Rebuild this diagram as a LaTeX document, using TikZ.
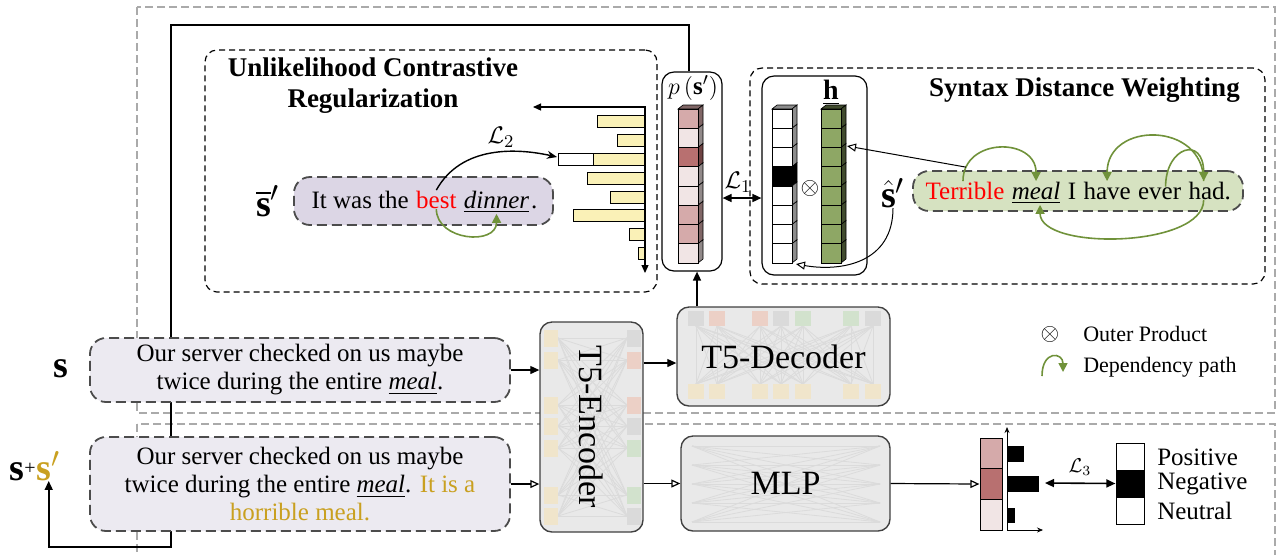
\documentclass[tikz,border=0pt]{standalone}
\usepackage{amsmath,amssymb}
\usepackage{fontspec}
\setmainfont{Liberation Serif}
\usetikzlibrary{arrows.meta,positioning,calc}

\definecolor{sentpurple}{RGB}{220,214,229}
\definecolor{inputgray}{RGB}{236,234,241}
\definecolor{sentgreen}{RGB}{214,226,193}
\definecolor{hgreen}{RGB}{142,167,101}
\definecolor{arcgreen}{RGB}{112,146,58}
\definecolor{baryellow}{RGB}{250,241,183}
\definecolor{probdark}{RGB}{184,112,112}
\definecolor{probmid}{RGB}{213,170,170}
\definecolor{problight}{RGB}{241,229,229}
\definecolor{augold}{RGB}{201,160,32}
\definecolor{framegray}{RGB}{170,170,170}
\definecolor{modelgray}{RGB}{233,233,233}
\definecolor{fadeyellow}{RGB}{240,229,203}
\definecolor{fadered}{RGB}{236,208,198}
\definecolor{fadegray}{RGB}{218,218,218}
\definecolor{fadegreen}{RGB}{210,226,205}

\begin{document}
\begin{tikzpicture}
  [
    x=0.5pt, y=-0.5pt,
    semithick,
    >={Triangle[length=4.5pt,width=4pt]},
    font=\fontsize{12.5}{14}\selectfont,
    outer frame/.style={draw=framegray, dash pattern=on 4pt off 2pt, line width=0.6pt},
    module frame/.style={draw, dash pattern=on 3pt off 2pt, line width=0.6pt, rounded corners=6pt, inner sep=0pt},
    sentence/.style={draw=black!70, dash pattern=on 5pt off 2.5pt, line width=0.9pt, rounded corners=8pt, inner sep=0pt},
    input box/.style={sentence, fill=inputgray, minimum width=210pt, align=center},
    model box/.style={draw=black!75, fill=modelgray, line width=0.7pt, rounded corners=6pt, inner sep=0pt},
    model text/.style={font=\fontsize{17}{20}\selectfont},
    holder/.style={draw, line width=0.6pt, rounded corners=6pt, inner sep=0pt},
    word/.style={inner sep=0pt},
    seq label/.style={font=\fontsize{19}{22}\selectfont, inner sep=0pt},
    module title/.style={font=\fontsize{13.5}{15.5}\selectfont\bfseries, align=center},
    dep/.style={arcgreen, line width=0.8pt, -{Triangle[length=4.5pt,width=4.5pt]}},
    hollow arrow/.style={-{Triangle[open,length=4.5pt,width=4pt]}},
    chart bar/.style={draw, line width=0.5pt, fill=baryellow},
    cell/.style={draw, line width=0.5pt},
    net/.style={black!14, line width=0.4pt},
    key text/.style={font=\fontsize{11}{13}\selectfont, anchor=west}
  ]
  \useasboundingbox (0,0) rectangle (1278,554);

  % training / classification regions
  \draw[outer frame] (137,7) rectangle (1275,413);
  \draw[outer frame] (137,424) rectangle (1275,570);

  % labels of the two inputs
  \node (s label) [seq label] at (61,369) {$\mathbf{s}$};
  \node (ss label) [seq label, anchor=base west] at (9,480)
        {$\mathbf{s}$\raisebox{3pt}{\fontsize{10}{10}\selectfont+}};
  \node (s prime) [seq label, base right=0pt of ss label] {$\color{augold}\mathbf{s}'$};

  % probability column holder
  \node (p box) [holder, minimum width=30pt, minimum height=99.5pt] at (692,171.5) {};
  \node (p label) at (693,88) {$p\left(\mathbf{s}'\right)$};

  % loop back to the augmented input
  \draw[->, line width=0.8pt] (p box.north -| 689,0) |- (171,25) -- (171,547) -| (s prime.south);

  % inputs
  \node (s box) [input box, minimum height=32pt] at (300,370)
        {Our server checked on us maybe\\twice during the entire \underline{\textit{meal}}.};
  \node (ss box) [input box, minimum height=47pt] at (300,484)
        {Our server checked on us maybe\\twice during the entire \underline{\textit{meal}}. \textcolor{augold}{It is a}\\\textcolor{augold}{horrible meal.}};

  % models
  \node (enc) [model box, minimum width=51.5pt, minimum height=105pt] at (591.5,427) {};
  \foreach \a in {338,360,405,426,448,495,516}
    \foreach \b in {338,360,405,426,448,495,516}
      \draw[net] (558,\a) -- (627,\b);
  \foreach \y/\c in {330/fadeyellow,352/fadeyellow,397/fadeyellow,418/fadeyellow,440/fadeyellow,487/fadeyellow,508/fadeyellow}
    \fill[\c] (544,\y) rectangle ++(14,17);
  \foreach \y/\c in {330/fadegray,352/fadered,397/fadered,418/fadegray,440/fadegreen,487/fadegreen,508/fadegray}
    \fill[\c] (627,\y) rectangle ++(14,17);
  \node (enc text) [model text, rotate=-90] at (enc) {T5-Encoder};

  \node (dec) [model box, minimum width=106.5pt, minimum height=49.5pt] at (783.5,356.5) {};
  \foreach \a in {696,717,760,781,803,851,873}
    \foreach \b in {696,717,760,781,803,851,873}
      \draw[net] (\a,326) -- (\b,384);
  \foreach \x/\c in {688/fadegray,709/fadered,752/fadered,773/fadegray,795/fadegreen,843/fadegreen,865/fadegray}
    \fill[\c] (\x,311) rectangle ++(16,15);
  \foreach \x in {688,709,752,773,795,843,865}
    \fill[fadeyellow] (\x,384) rectangle ++(16,15);
  \node (dec text) [model text] at (dec) {T5-Decoder};

  \node (mlp) [model box, minimum width=104.5pt, minimum height=47.5pt] at (785.5,483.5) {};
  \foreach \a in {446,465,484,503,522}
    \foreach \b in {446,465,484,503,522}
      \draw[net] (692,\a) -- (880,\b);
  \node (mlp text) [model text] at (mlp) {MLP};

  \draw[->] (s box.east) -- (enc.west |- s box.east);
  \draw[hollow arrow] (ss box.east) -- (enc.west |- ss box.east);
  \draw[->] (enc.east |- 0,363) -- (dec.west |- 0,363);
  \draw[hollow arrow] (enc.east |- mlp) -- (mlp.west);
  \draw[->, line width=0.8pt] (dec.north -| 697,0) -- (p box.south -| 697,0);

  % unlikelihood contrastive regularization
  \node (ucr) [module frame, minimum width=226pt, minimum height=121pt] at (431,171) {};
  \node (ucr title) [module title] at (373,86) {Unlikelihood Contrastive\\Regularization};
  \foreach \y/\x in {115/597,134/617,153/593,172/587,191/610,209/573,228/629,247/638}
    \draw[chart bar] (\x,\y) rectangle (645,\y+12);
  \draw[cell, fill=white] (558,153) rectangle (593,165);
  \coordinate (l2 end) at (557,157);
  \coordinate (chart origin) at (645,107);
  \draw[{Triangle[length=4pt,width=3.5pt]}-{Triangle[length=4pt,width=3.5pt]}, line width=0.6pt]
        (533,107) -- (chart origin) -- (645,273);

  \node (bar s box) [sentence, fill=sentpurple, minimum width=129.5pt, minimum height=24pt] at (423.5,201) {};
  \node (bar s label) [seq label] at (268,201) {$\overline{\mathbf{s}}'$};
  \node (w it) [word, anchor=base west] at (311,208) {It was the};
  \node (w best) [word, base right=3.1pt of w it, text=red] {best};
  \node (w dinner) [word, base right=3.1pt of w best] {\underline{\textit{dinner}}};
  \node (w dot) [word, base right=0.3pt of w dinner] {.};
  \draw[dep] (w best.south) .. controls +(0,32) and +(0,32) .. (w dinner.south);
  \draw[-{Stealth[length=5pt,width=4pt]}, line width=0.7pt]
        (w best.north) .. controls +(25,-45) and +(-40,-9) .. (l2 end);
  \node (l2 label) at (501,137) {$\mathcal{L}_2$};

  % probability column
  \filldraw[fill=probmid!60!black, line width=0.3pt] (678,109) -- ++(5,-4) -- ++(20,0) -- ++(-5,4) -- cycle;
  \foreach \c [count=\i from 0] in {probmid,problight,probdark,problight,problight,probmid,probmid,problight}
  {
    \filldraw[fill=\c!60!black, line width=0.3pt] (698,109+19.25*\i) -- ++(5,-4) -- ++(0,19.25) -- ++(-5,4) -- cycle;
    \draw[cell, fill=\c] (678,109+19.25*\i) rectangle ++(20,19.25);
  }

  % syntax distance weighting
  \node (sdw) [module frame, minimum width=257.5pt, minimum height=108pt] at (1007.5,176) {};
  \node (sdw title) [module title, anchor=east] at (1247,90) {Syntax Distance Weighting};
  \node (h box) [holder, minimum width=52.5pt, minimum height=99.5pt] at (814.5,175.5) {};
  \node (h label) at (831,93) {\fontsize{14}{16}\selectfont$\underline{\mathbf{h}}$};
  \node (otimes) at (810,188) {$\otimes$};

  \filldraw[fill=black!45, line width=0.3pt] (772,109) -- ++(5,-4) -- ++(20,0) -- ++(-5,4) -- cycle;
  \foreach \c [count=\i from 0] in {white,white,white,black,white,white,white,white}
  {
    \filldraw[fill=\c!55!black, line width=0.3pt] (792,109+19.25*\i) -- ++(5,-4) -- ++(0,19.25) -- ++(-5,4) -- cycle;
    \draw[cell, fill=\c] (772,109+19.25*\i) rectangle ++(20,19.25);
  }
  \filldraw[fill=hgreen!45!black, line width=0.3pt] (821,109) -- ++(5,-4) -- ++(20,0) -- ++(-5,4) -- cycle;
  \foreach \i in {0,...,7}
  {
    \filldraw[fill=hgreen!45!black, line width=0.3pt] (841,109+19.25*\i) -- ++(5,-4) -- ++(0,19.25) -- ++(-5,4) -- cycle;
    \draw[cell, fill=hgreen] (821,109+19.25*\i) rectangle ++(20,19.25);
  }
  \coordinate (h col) at (847,146);
  \coordinate (e col) at (796,264);

  \draw[<->, line width=0.8pt] ($(p box.east)+(0,26.5)$) -- ($(h box.west)+(0,22.5)$);
  \node (l1 label) at (738,182) {$\mathcal{L}_1$};

  \node (hat box) [sentence, fill=sentgreen, minimum width=165pt, minimum height=20pt] at (1078,191) {};
  \node (hat label) [seq label] at (893,193) {$\hat{\mathbf{s}}'$};
  \node (w terrible) [word, anchor=base west, text=red] at (925,199) {Terrible};
  \node (w meal) [word, base right=3.1pt of w terrible] {\underline{\textit{meal}}};
  \node (w i) [word, base right=3.1pt of w meal] {I};
  \node (w have) [word, base right=3.1pt of w i] {have};
  \node (w ever) [word, base right=3.1pt of w have] {ever};
  \node (w had) [word, base right=3.1pt of w ever] {had.};

  \draw[dep] ([xshift=-1pt]w terrible.north) .. controls +(0,-44) and +(0,-44) .. (w meal.north)
        coordinate[pos=0.12] (arc start);
  \draw[dep] ([xshift=-3pt]w had.north) .. controls +(0,-60) and +(0,-60) .. (w have.north);
  \draw[dep] ([xshift=3pt]w ever.north) .. controls +(0,-40) and +(0,-46) .. ([xshift=-3pt]w had.north);
  \draw[dep] ([xshift=-3pt]w had.south) .. controls +(0,48) and +(0,46) .. ([xshift=2pt]w meal.south);

  \draw[hollow arrow, line width=0.5pt] (arc start) -- (h col);
  \draw[hollow arrow, line width=0.5pt] (hat label.south) .. controls +(0,55) and +(45,8) .. (e col);

  % legend
  \node (otimes key) at (1050,334) {$\otimes$};
  \node (otimes text) [key text] at (1076,334) {Outer Product};
  \coordinate (dep key a) at (1042,376);
  \coordinate (dep key b) at (1063,372);
  \draw[dep] (dep key a) .. controls +(0,-26) and +(0,-20) .. (dep key b);
  \node (dep text) [key text] at (1076,367) {Dependency path};

  % sentiment prediction
  \node (dist) [inner sep=0pt, minimum width=11pt, minimum height=46pt] at (991,484) {};
  \foreach \c [count=\i from 0] in {probmid,probdark,problight}
    \draw[cell, fill=\c] (980,438+30.67*\i) rectangle ++(22,30.67);
  \coordinate (dist origin) at (1007,530);
  \draw[-{Stealth[length=3pt,width=2.5pt]}, line width=0.4pt] (dist origin) -- (1007,427);
  \draw[-{Stealth[length=3pt,width=2.5pt]}, line width=0.4pt] (dist origin) -- (1043,530);
  \fill (1007,446) rectangle (1024,462);
  \fill (1007,476) rectangle (1039,492);
  \fill (1007,508) rectangle (1015,523);
  \draw[hollow arrow] (mlp.east) -- (dist.west);

  \node (onehot) [inner sep=0pt, minimum width=14pt, minimum height=40.5pt] at (1130,483.5) {};
  \foreach \c [count=\i from 0] in {white,black,white}
    \draw[cell, fill=\c] (1116,443+27*\i) rectangle ++(28,27);
  \coordinate (l3 start) at (1045,483);
  \draw[<->, line width=0.8pt] (l3 start) -- (onehot.west);
  \node (l3 label) at (1080,467) {\fontsize{10}{12}\selectfont$\mathcal{L}_3$};
  \node (pos text) [anchor=west] at (1150,457) {Positive};
  \node (neg text) [anchor=west] at (1150,484) {Negative};
  \node (neu text) [anchor=west] at (1150,511) {Neutral};
\end{tikzpicture}
\end{document}
